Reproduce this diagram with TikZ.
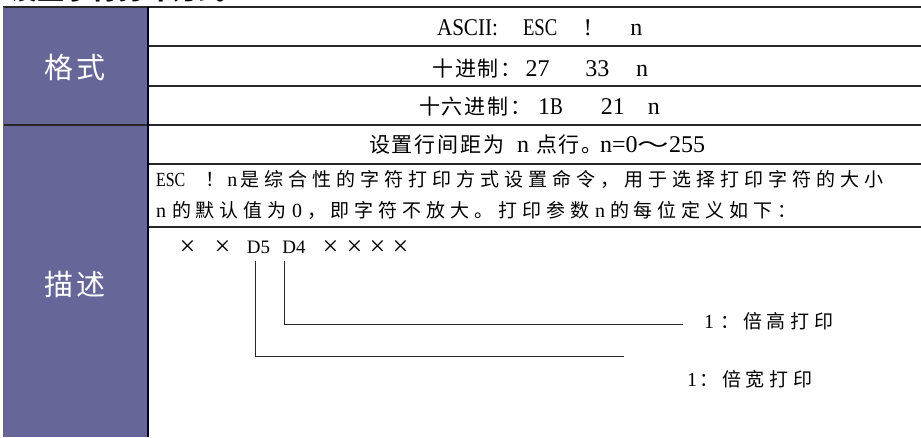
\documentclass[tikz,border=0pt]{standalone}
\usepackage{fontspec}
\usepackage{graphicx}
\setmainfont{Liberation Serif}
\newfontfamily\cjk{Noto Sans CJK SC}
\definecolor{colpurple}{RGB}{102,102,153}
\definecolor{rulegray}{RGB}{40,40,40}
\makeatletter
\def\spc@end{}
\newcommand\spc[2]{\def\spc@gap{\hspace{#1}}\spc@first#2\spc@end}
\def\spc@first#1{#1\spc@loop}
\def\spc@loop#1{\ifx#1\spc@end\else\spc@gap#1\expandafter\spc@loop\fi}
\makeatother
\newcommand\nar[1]{\scalebox{0.8}[1]{#1}}
\newcommand\lt[1]{{\fontsize{20}{22}\selectfont #1}}
\begin{document}
\begin{tikzpicture}[x=1pt,y=-1pt,
  every node/.style={inner sep=0pt,outer sep=0pt},
  rule/.style={draw=rulegray,line width=1.6pt},
  thinrule/.style={draw=black!85,line width=1pt},
  cell/.style={anchor=base west,font=\fontsize{24}{26}\selectfont},
  desc/.style={anchor=base west,font=\fontsize{19}{22}\selectfont},
  head/.style={font=\fontsize{29}{32}\selectfont\cjk,text=white},
  bits/.style={font=\fontsize{19}{22}\selectfont},
  cross/.style={font=\fontsize{28}{30}\selectfont},
  ]
\useasboundingbox (0,0) rectangle (921,437);
\fill[white] (0,0) rectangle (921,437);
\fill[colpurple] (3.5,7) rectangle (148,437);
\node[anchor=base west,font=\fontsize{27}{30}\selectfont\cjk\bfseries] (title) at (10,-1) {设置字符打印方式};
% table rules
\draw[rule] (3,7) -- (921,7);
\draw[rule] (148,46) -- (921,46);
\draw[rule] (148,86) -- (921,86);
\draw[rule] (3,125) -- (921,125);
\draw[rule] (148,164) -- (921,164);
\draw[rule] (148,227) -- (921,227);
\draw[draw=black!60,line width=1pt] (3.5,7) -- (3.5,437);
\draw[draw=black!85!blue,line width=2.5pt] (148,7) -- (148,437);
% headers
\node[head] (fmt) at (75,67.5) {\spc{4pt}{格式}};
\node[head] (dsc) at (75,284) {\spc{4pt}{描述}};
% format rows
\node[cell] (ascii) at (437,35) {\scalebox{0.88}[1]{ASCII:}\hspace{25pt}\scalebox{0.78}[1]{ESC}\hspace{26.5pt}!\hspace{38.5pt}n};
\node[cell] (dec) at (432,76) {{\fontsize{21}{24}\selectfont\cjk\spc{2pt}{十进制：}}\hspace{3.5pt}27\hspace{36pt}33\hspace{26.5pt}n};
\node[cell] (hex) at (419,114) {{\fontsize{21}{24}\selectfont\cjk\spc{2pt}{十六进制：}}\hspace{6pt}1\nar{B}\hspace{38pt}21\hspace{23pt}n};
\node[cell] (sum) at (369,152) {{\fontsize{21}{24}\selectfont\cjk\spc{2pt}{设置行间距为}}\hspace{12pt}n\hspace{7pt}{\fontsize{21}{24}\selectfont\cjk\spc{2pt}{点行。}}\hspace{-3pt}n=0{\fontsize{21}{24}\selectfont\scalebox{1.5}[1]{\cjk ～}}255};
% description
\node[desc] (l1) at (156,186) {\lt{\nar{ESC}}\hspace{20pt}{\cjk ！}\hspace{3pt}\lt{n}\hspace{3pt}{\cjk\spc{5pt}{是综合性的字符打印方式设置命令，用于选择打印字符的大小}}};
\node[desc] (l2) at (156,217) {\lt{n}\hspace{6pt}{\cjk\spc{5pt}{的默认值为}}\hspace{5pt}\lt{0}\hspace{5pt}{\cjk\spc{5pt}{，即字符不放大。打印参数}}\hspace{5pt}\lt{n}\hspace{5pt}{\cjk\spc{5pt}{的每位定义如下：}}};
% bit row
\node[cross] (x1) at (187.5,247.5) {×};
\node[cross] (x2) at (222.5,247.5) {×};
\node[bits] (d5) at (258.5,247.5) {D5};
\node[bits] (d4) at (294,247.5) {D4};
\node[cross] (x3) at (330.5,247.5) {×};
\node[cross] (x4) at (354.5,247.5) {×};
\node[cross] (x5) at (377.5,247.5) {×};
\node[cross] (x6) at (400.5,247.5) {×};
% labels
\node[desc] (lab4) at (704,328) {\lt{1}\hspace{6pt}{\cjk\spc{4.5pt}{：倍高打印}}};
\node[desc] (lab5) at (687,386) {\lt{1}\hspace{2pt}{\cjk\spc{4.5pt}{：倍宽打印}}};
% connectors
\coordinate (e4) at (683,324);
\coordinate (e5) at (624,356);
\draw[thinrule] ([xshift=-10pt,yshift=-7.5pt]d4.south) |- (e4);
\draw[thinrule] ([xshift=-3.5pt,yshift=-7.5pt]d5.south) |- (e5);
\end{tikzpicture}
\end{document}
